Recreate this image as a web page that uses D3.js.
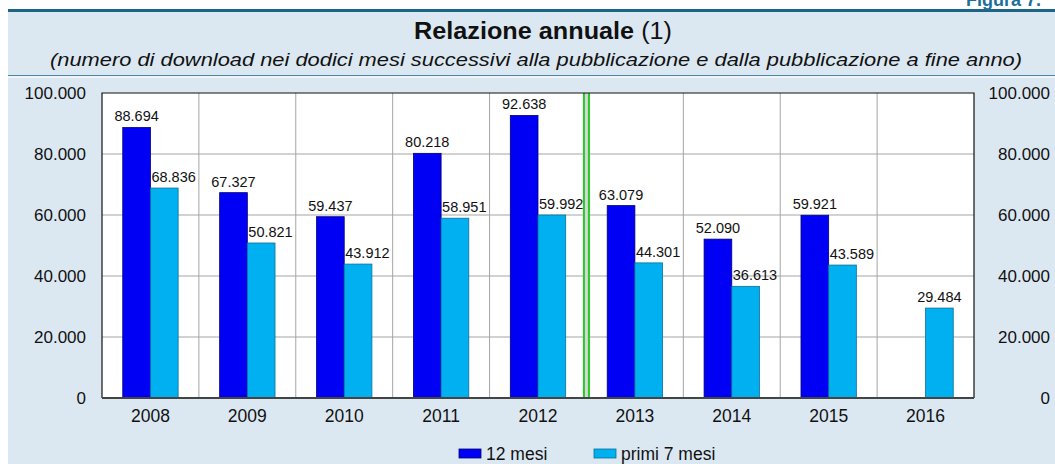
<!DOCTYPE html>
<html>
<head>
<meta charset="utf-8">
<script src="https://cdn.jsdelivr.net/npm/d3@7"></script>
<style>
  body { margin:0; background:#fff; }
  svg { display:block; font-family:"Liberation Sans", Arial, Helvetica, sans-serif; }
</style>
</head>
<body>
<div id="viz-container"></div>
<script>
// data
let anni = ['2008','2009','2010','2011','2012','2013','2014','2015','2016'];
let dodiciMesi = [88694, 67327, 59437, 80218, 92638, 63079, 52090, 59921, null];
let primiSette = [68836, 50821, 43912, 58951, 59992, 44301, 36613, 43589, 29484];
let yTicks = [0, 20000, 40000, 60000, 80000, 100000];
let serie = ['12 mesi', 'primi 7 mesi'];

// colori
let sc = {'12 mesi':'#0000f5', 'primi 7 mesi':'#00b0f0'};
let sb = {'12 mesi':'#00007a', 'primi 7 mesi':'#0b6f9a'};

let W = 1055, H = 464;
let m = {l:102, r:81, t:93, b:66};

let svg = d3.select('#viz-container')
  .append('svg')
    .attr('width', W)
    .attr('height', H);

// sfondo
svg.append('rect').attr('x',8).attr('y',12).attr('width',W-8).attr('height',H-12).attr('fill','#dce8f1');
svg.append('rect').attr('x',8).attr('y',9).attr('width',W-8).attr('height',3).attr('fill','#1c6587');
svg.append('line').attr('x1',8).attr('x2',W).attr('y1',75.5).attr('y2',75.5).attr('stroke','#4d87a6').attr('stroke-width',1.2);
svg.append('line').attr('x1',8).attr('x2',W).attr('y1',77).attr('y2',77).attr('stroke','#ffffff').attr('stroke-width',1);

svg.append('text')
  .attr('x',966).attr('y',6)
  .attr('font-size',18).attr('font-weight','bold')
  .attr('fill','#1c6f98')
  .text('Figura 7.');

// titolo
let t = svg.append('text')
  .attr('x',414).attr('y',39)
  .attr('font-size',23)
  .attr('textLength',258).attr('lengthAdjust','spacingAndGlyphs')
  .attr('fill','#111');
t.append('tspan').attr('font-weight','bold').text('Relazione annuale');
t.append('tspan').text(' (1)');

svg.append('text')
  .attr('x',50).attr('y',66)
  .attr('font-size',18.5)
  .attr('font-style','italic')
  .attr('textLength',972).attr('lengthAdjust','spacingAndGlyphs')
  .attr('fill','#111')
  .text('(numero di download nei dodici mesi successivi alla pubblicazione e dalla pubblicazione a fine anno)');

let pw = W - m.l - m.r, ph = H - m.t - m.b;

let x = d3.scaleBand().domain(anni).range([m.l, m.l+pw]).paddingInner(0).paddingOuter(0);
let xs = d3.scaleBand().domain(serie).range([0, x.bandwidth()]).paddingInner(0).paddingOuter(0.75);
let y = d3.scaleLinear().domain([0,100000]).range([m.t+ph, m.t]);

let fmt = d3.formatLocale({decimal:',', thousands:'.', grouping:[3], currency:['','']}).format(',d');

// area grafico
svg.append('rect').attr('x',m.l).attr('y',m.t).attr('width',pw).attr('height',ph).attr('fill','#fff');

// griglia
svg.append('g').selectAll('line').data(yTicks.slice(1,-1)).enter()
  .append('line')
    .attr('x1',m.l).attr('x2',m.l+pw)
    .attr('y1',d=>y(d)).attr('y2',d=>y(d))
    .attr('stroke','#a5a5a5').attr('stroke-width',1);
svg.append('g').selectAll('line').data(anni.slice(1)).enter()
  .append('line')
    .attr('x1',d=>x(d)).attr('x2',d=>x(d))
    .attr('y1',m.t).attr('y2',m.t+ph)
    .attr('stroke','#a5a5a5').attr('stroke-width',1);

// separatore verde tra 2012 e 2013
let xg = x('2013');
svg.append('rect').attr('x',xg-3).attr('y',m.t).attr('width',6).attr('height',ph).attr('fill','#d6d6d6');
[xg-2.5, xg+2.5].forEach(function(v){
  svg.append('line').attr('x1',v).attr('x2',v).attr('y1',m.t).attr('y2',m.t+ph)
    .attr('stroke','#22cc22').attr('stroke-width',2);
});

// barre
let dati = [];
anni.forEach(function(a,i){
  let solo = dodiciMesi[i]==null;
  if(!solo) dati.push({anno:a, s:'12 mesi', v:dodiciMesi[i], solo:false});
  if(primiSette[i]!=null) dati.push({anno:a, s:'primi 7 mesi', v:primiSette[i], solo:solo});
});

svg.append('g').selectAll('rect').data(dati).enter()
  .append('rect')
    .attr('x',d=>x(d.anno)+xs(d.s))
    .attr('y',d=>y(d.v))
    .attr('width',xs.bandwidth())
    .attr('height',d=>y(0)-y(d.v))
    .attr('fill',d=>sc[d.s])
    .attr('stroke',d=>sb[d.s])
    .attr('stroke-width',0.8);

// etichette: la serie chiara parte dal bordo sinistro della barra
svg.append('g').selectAll('text').data(dati).enter()
  .append('text')
    .attr('x',function(d){
      let x0 = x(d.anno)+xs(d.s);
      if(d.s=='primi 7 mesi' && !d.solo) return x0+1;
      return x0+xs.bandwidth()/2;
    })
    .attr('y',d=>y(d.v)-6)
    .attr('text-anchor',d=>(d.s=='primi 7 mesi' && !d.solo) ? 'start' : 'middle')
    .attr('font-size',14.5)
    .attr('fill','#111')
    .text(d=>fmt(d.v));

// bordo
svg.append('path')
  .attr('d','M'+m.l+','+(m.t+ph)+'V'+m.t+'H'+(m.l+pw)+'V'+(m.t+ph))
  .attr('fill','none').attr('stroke','#111').attr('stroke-width',1.2);
svg.append('line').attr('x1',m.l).attr('x2',m.l+pw).attr('y1',m.t+ph).attr('y2',m.t+ph)
  .attr('stroke','#444').attr('stroke-width',2);

// assi
let yl = d3.axisLeft(y).tickValues(yTicks).tickSize(0).tickPadding(16).tickFormat(fmt);
let yr = d3.axisRight(y).tickValues(yTicks).tickSize(0).tickPadding(0).tickFormat(fmt);
let gl = svg.append('g').attr('transform','translate('+m.l+',0)').call(yl);
let gr = svg.append('g').attr('transform','translate(1050,0)').call(yr);
gr.selectAll('text').attr('text-anchor','end');
[gl, gr].forEach(function(g){
  g.select('.domain').remove();
  g.selectAll('text').attr('font-size',17).attr('fill','#111').attr('font-family','"Liberation Sans", Arial, sans-serif');
});

let xa = d3.axisBottom(x).tickSize(0).tickPadding(12);
let gx = svg.append('g').attr('transform','translate(0,'+(m.t+ph)+')').call(xa);
gx.select('.domain').remove();
gx.selectAll('text').attr('font-size',17.5).attr('fill','#111').attr('font-family','"Liberation Sans", Arial, sans-serif');

// legenda
let lx = {'12 mesi':459, 'primi 7 mesi':594};
serie.forEach(function(s){
  svg.append('rect').attr('x',lx[s]).attr('y',449).attr('width',22).attr('height',9)
    .attr('fill',sc[s]).attr('stroke',sb[s]).attr('stroke-width',0.8);
  svg.append('text').attr('x',lx[s]+27).attr('y',459.5)
    .attr('font-size',17.5).attr('fill','#111').text(s);
});
</script>
</body>
</html>
